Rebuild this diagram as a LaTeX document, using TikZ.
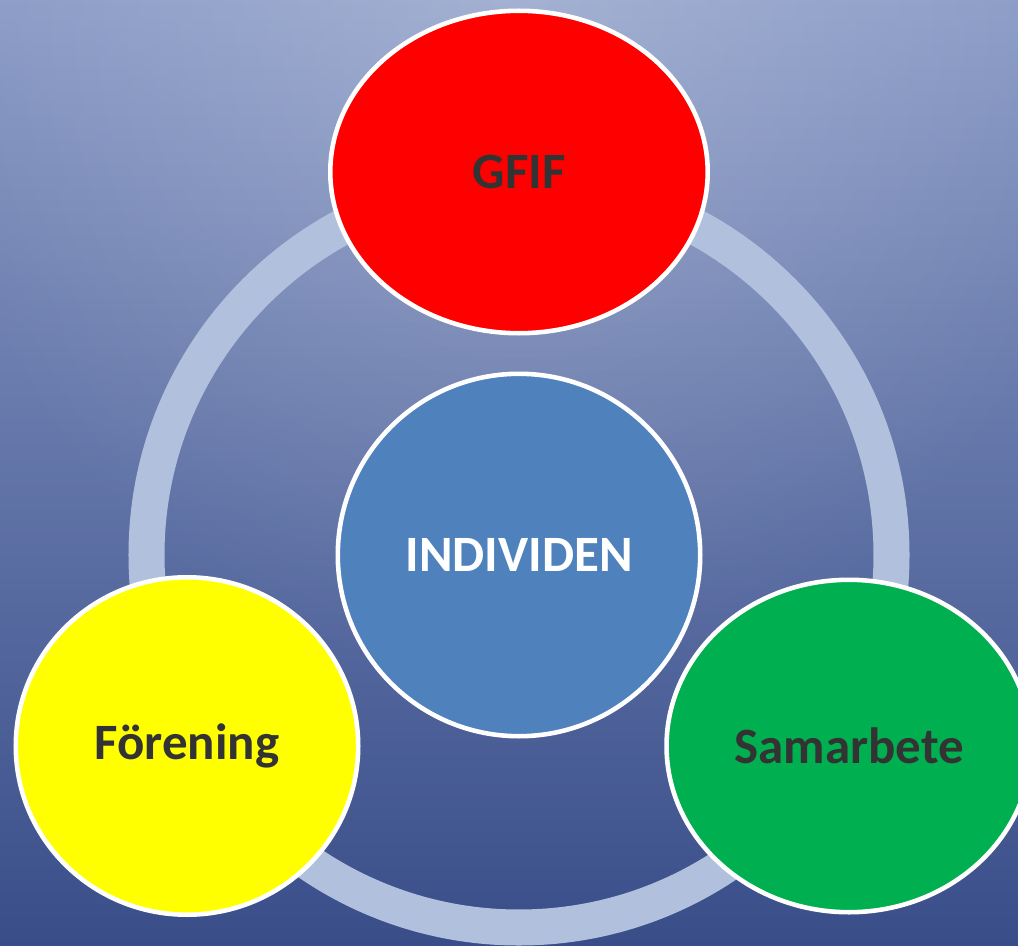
\documentclass[tikz,border=0pt]{standalone}
\usepackage{fontspec}
\setmainfont{Carlito}
\usepackage{tikz}
\usetikzlibrary{shapes.geometric,fadings}
\definecolor{bgtop}{HTML}{8A9BC6}
\definecolor{bgbot}{HTML}{394D89}
\definecolor{ringcol}{HTML}{B1C1DD}
\definecolor{gfifred}{HTML}{FF0000}
\definecolor{foryellow}{HTML}{FFFF00}
\definecolor{samgreen}{HTML}{00B050}
\definecolor{indblue}{HTML}{4F81BD}
\definecolor{textdark}{HTML}{333333}
\tikzfading[name=topglow,inner color=transparent!0,outer color=transparent!100]

\begin{document}
\begin{tikzpicture}[
x=0.02cm,y=-0.02cm,
Bubble/.style={ellipse,draw=white,line width=2.6pt,inner sep=0pt,
  font=\bfseries\fontsize{29}{31}\selectfont,text=textdark},
Ring/.style={draw=ringcol,line width=20.5pt}
]
\useasboundingbox (0,0) rectangle (1018,946);

% background, with a light glow at the top
\shade[top color=bgtop,bottom color=bgbot] (0,0) rectangle (1018,946);
\begin{scope}
\clip (0,0) rectangle (1018,946);
\fill[white,opacity=0.22,path fading=topglow] (519,0) ellipse[x radius=600,y radius=700];
\end{scope}

% centres of the bubbles
\coordinate (C) at (519,555);
\coordinate (T) at (519,172);
\coordinate (L) at (187,746);
\coordinate (R) at (849,746);

% the ring behind the bubbles
\draw[Ring] (C) circle[radius=372.5];

\node[Bubble,fill=gfifred,minimum width=7.55cm,minimum height=6.45cm] (gfif) at (T) {GFIF};
\node[Bubble,fill=indblue,text=white,minimum width=7.25cm,minimum height=7.25cm] (individen) at (C) {INDIVIDEN};
\node[Bubble,fill=foryellow,minimum width=6.85cm,minimum height=6.75cm] (forening) at (L) {Förening};
\node[Bubble,fill=samgreen,minimum width=7.3cm,minimum height=6.65cm] (samarbete) at (R) {Samarbete};

\end{tikzpicture}
\end{document}
